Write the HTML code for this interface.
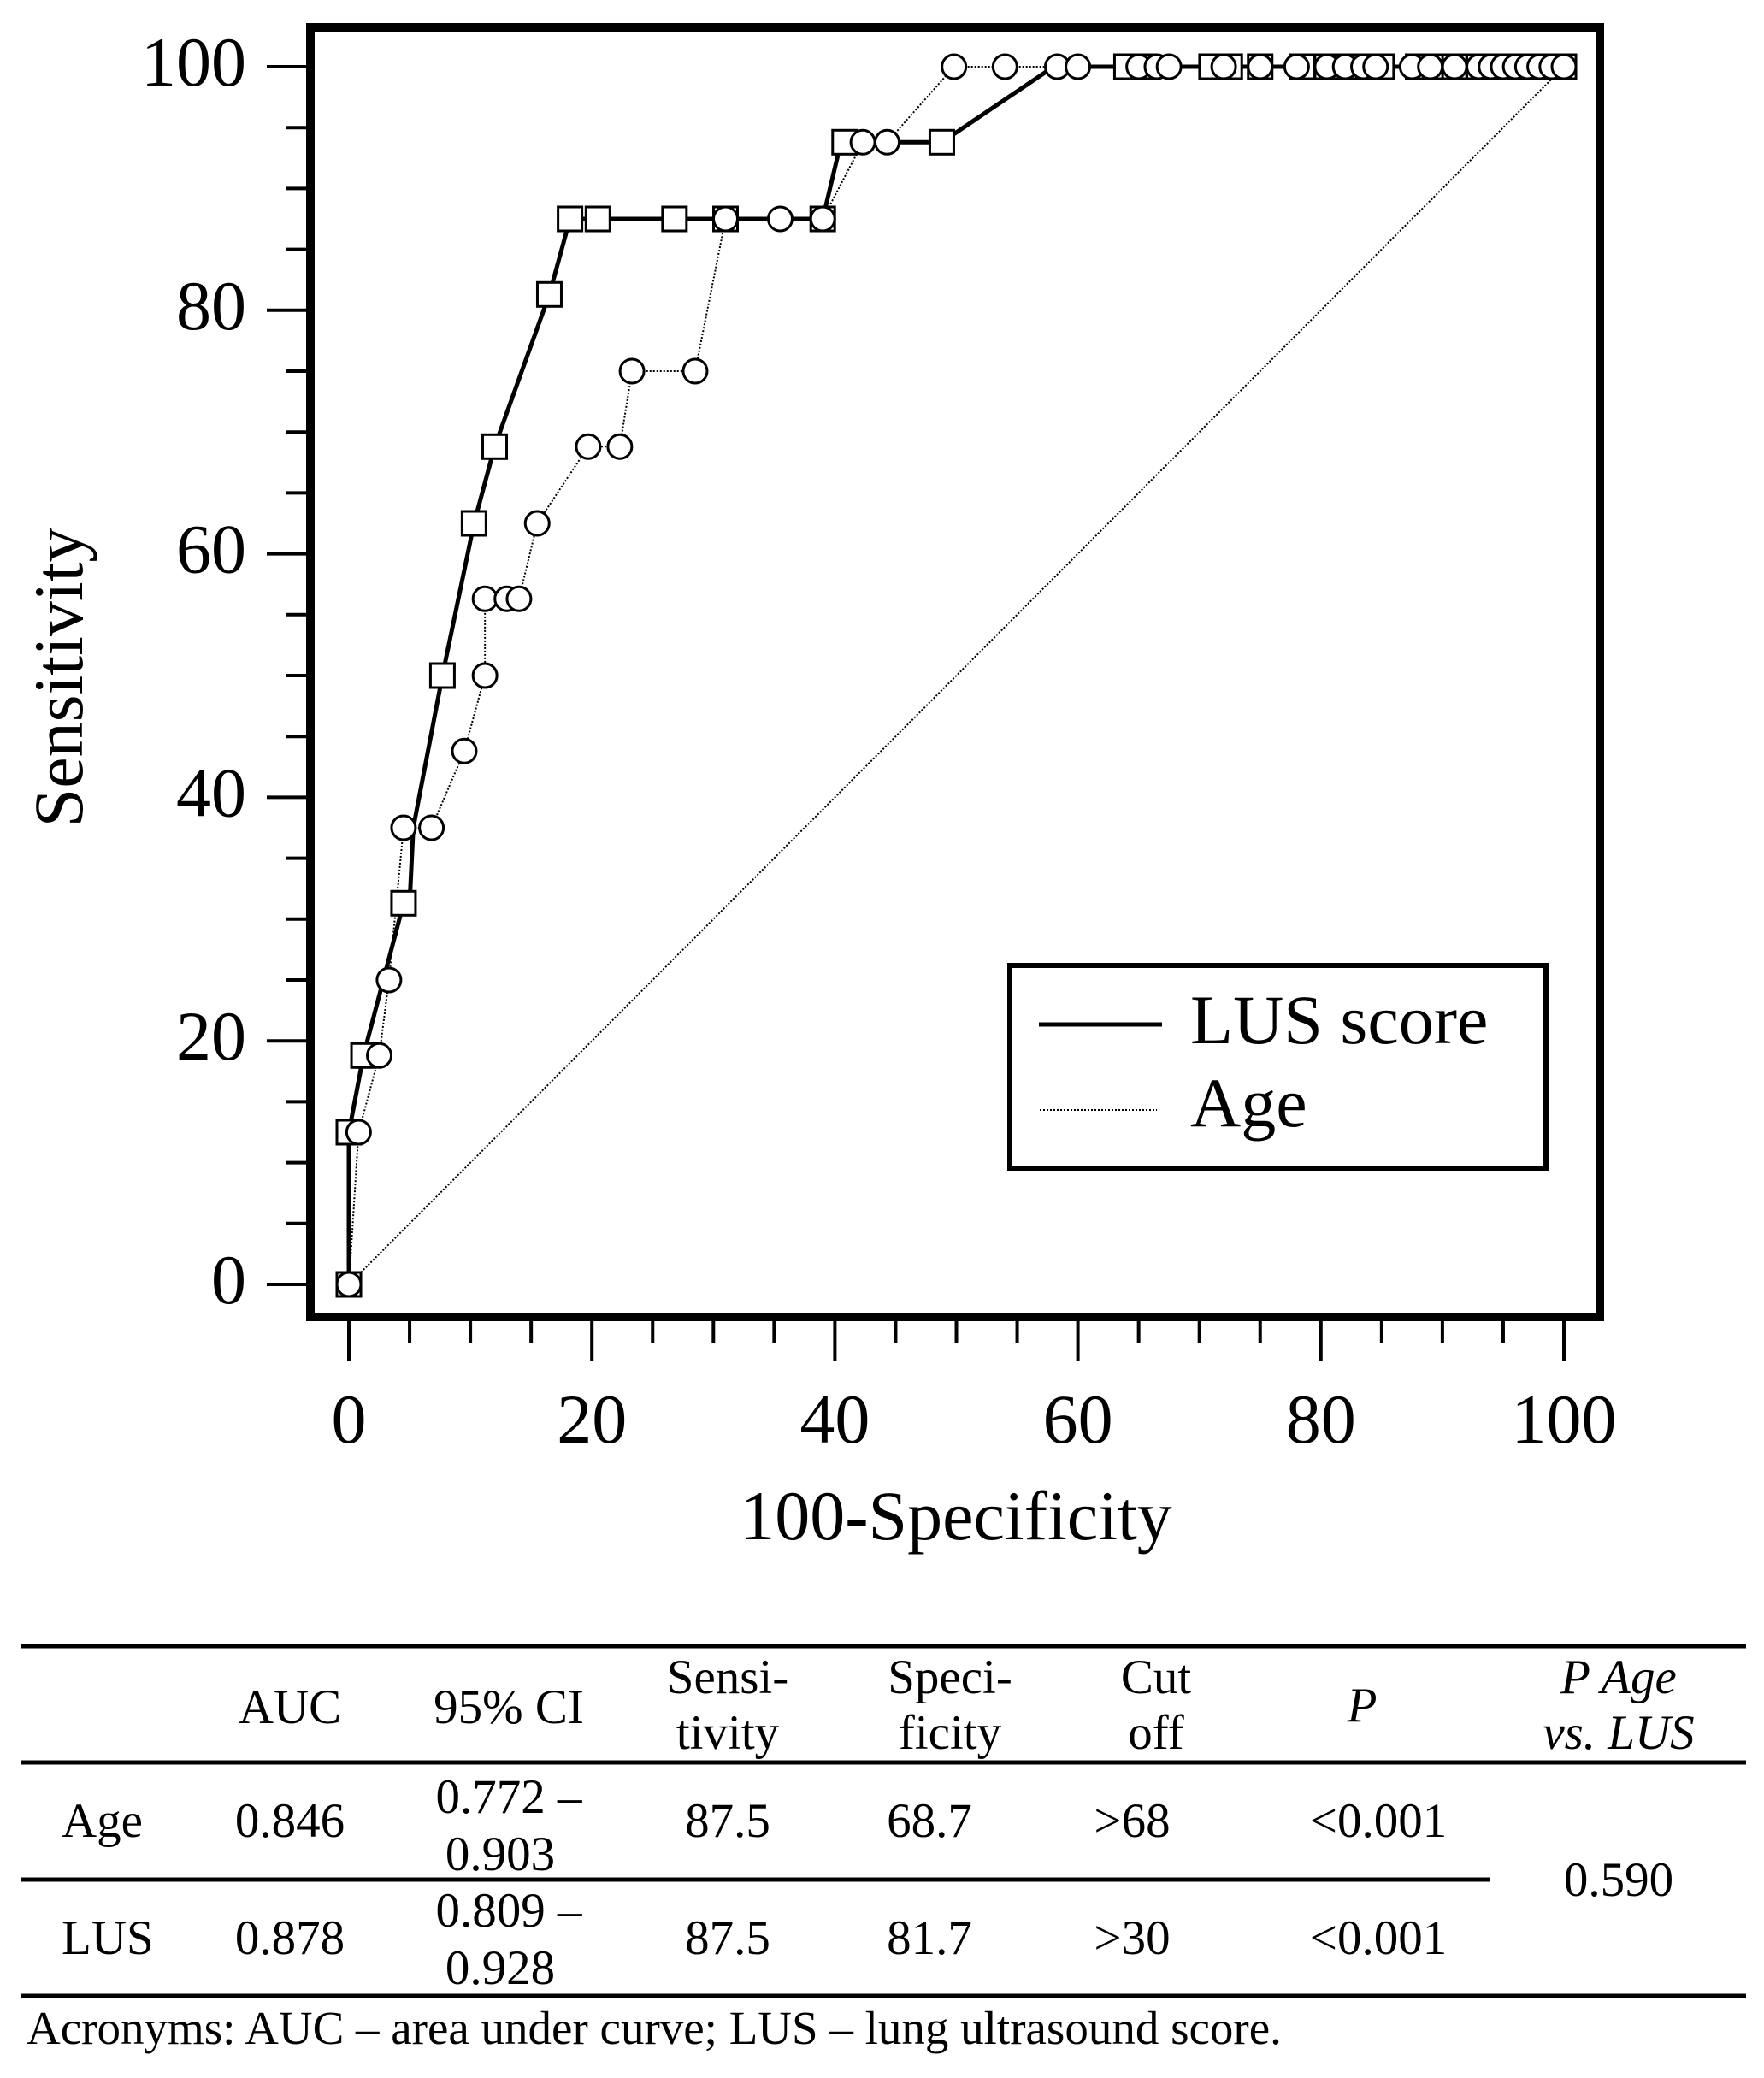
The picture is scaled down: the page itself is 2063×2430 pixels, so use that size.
<!DOCTYPE html>
<html><head><meta charset="utf-8"><style>
html,body{margin:0;padding:0;background:#fff;}
svg{display:block;}
text{font-family:"Liberation Serif",serif;fill:#000;}
</style></head><body>
<svg width="2063" height="2430" viewBox="0 0 2063 2430" xmlns="http://www.w3.org/2000/svg">
<g id="g"></g>
<!-- axes frame -->
<rect x="363" y="32" width="1508" height="1508" fill="none" stroke="#000" stroke-width="10"/>
<!-- legend -->
<rect x="1181" y="1129" width="627" height="237" fill="#fff" stroke="#000" stroke-width="6"/>
<line x1="1215" y1="1198" x2="1359" y2="1198" stroke="#000" stroke-width="5"/>
<line x1="1216" y1="1298" x2="1353" y2="1298" stroke="#000" stroke-width="2" stroke-dasharray="2,2"/>
<text x="1392" y="1220" font-size="82">LUS score</text>
<text x="1392" y="1317" font-size="82">Age</text>
<!-- axis titles -->
<text x="1118" y="1800" font-size="82" text-anchor="middle">100-Specificity</text>
<text transform="translate(96,792) rotate(-90)" font-size="82" text-anchor="middle">Sensitivity</text>
<!-- table -->
<g stroke="#000" stroke-width="5">
<line x1="25" y1="1925" x2="2042" y2="1925"/>
<line x1="25" y1="2061" x2="2042" y2="2061"/>
<line x1="25" y1="2198" x2="1743" y2="2198"/>
<line x1="25" y1="2334" x2="2042" y2="2334"/>
</g>
<g font-size="57" text-anchor="middle">
<text x="339" y="2015">AUC</text>
<text x="595" y="2015">95% CI</text>
<text x="851" y="1980">Sensi-</text><text x="851" y="2045">tivity</text>
<text x="1111" y="1980">Speci-</text><text x="1111" y="2045">ficity</text>
<text x="1352" y="1980">Cut</text><text x="1352" y="2045">off</text>
<text x="1593" y="2013" font-style="italic">P</text>
<text x="1893" y="1980" font-style="italic">P Age</text>
<text x="1893" y="2045" font-style="italic">vs. LUS</text>
<text x="339" y="2148">0.846</text>
<text x="595" y="2120">0.772 –</text><text x="585" y="2187">0.903</text>
<text x="851" y="2148">87.5</text>
<text x="1087" y="2148">68.7</text>
<text x="1324" y="2148">&gt;68</text>
<text x="1612" y="2148">&lt;0.001</text>
<text x="339" y="2285">0.878</text>
<text x="595" y="2253">0.809 –</text><text x="585" y="2320">0.928</text>
<text x="851" y="2285">87.5</text>
<text x="1087" y="2285">81.7</text>
<text x="1324" y="2285">&gt;30</text>
<text x="1612" y="2285">&lt;0.001</text>
<text x="1893" y="2217">0.590</text>
</g>
<text x="72" y="2148" font-size="57">Age</text>
<text x="72" y="2285" font-size="57">LUS</text>
<text x="31" y="2390" font-size="55">Acronyms: AUC – area under curve; LUS – lung ultrasound score.</text>
</svg>
<script>
(function(){
var NS="http://www.w3.org/2000/svg",g=document.getElementById("g");
function X(v){return 408+v*14.21;} function Y(v){return 1502-v*14.24;}
function el(n,a){var e=document.createElementNS(NS,n);for(var k in a)e.setAttribute(k,a[k]);g.appendChild(e);return e;}
// ticks
for(var v=0;v<=100;v+=5){var maj=v%20==0;
 el("line",{x1:X(v),y1:1545,x2:X(v),y2:maj?1592:1570,stroke:"#000","stroke-width":4});
 el("line",{x1:358,y1:Y(v),x2:maj?312:335,y2:Y(v),stroke:"#000","stroke-width":4});
 if(maj){var t=el("text",{x:X(v),y:1687,"font-size":82,"text-anchor":"middle"});t.textContent=v;
  var t2=el("text",{x:288,y:Y(v)+22,"font-size":82,"text-anchor":"end"});t2.textContent=v;}
}
// diagonal
el("line",{x1:X(0),y1:Y(0),x2:X(100),y2:Y(100),stroke:"#000","stroke-width":2,"stroke-dasharray":"2,2"});
var lus=[[0,0],[0,12.5],[1.2,18.8],[4.5,31.3],[5,31.3],[5.3,37.5],[7.7,50],[10.3,62.5],[12,68.8],[16.5,81.3],[18.2,87.5],[20.5,87.5],[26.8,87.5],[31,87.5],[39,87.5],[40.5,93.8],[48.8,93.8],[58,100],[64,100],[71,100],[75,100],[77,100],[80.5,100],[82,100],[84,100],[86,100],[88,100],[90,100],[92,100],[94,100],[96,100],[98,100],[100,100]];
var lusM=[[0,0],[0,12.5],[1.2,18.8],[4.5,31.3],[7.7,50],[10.3,62.5],[12,68.8],[16.5,81.3],[18.2,87.5],[20.5,87.5],[26.8,87.5],[31,87.5],[39,87.5],[40.8,93.8],[48.8,93.8],[64,100],[65.5,100],[71,100],[72.5,100],[75,100],[78.5,100],[80.5,100],[82,100],[83.5,100],[85,100],[88,100],[89.5,100],[91,100],[93,100],[94.5,100],[96,100],[97.5,100],[99,100],[100,100]];
var age=[[0,0],[0.8,12.5],[2.5,18.8],[3.3,25],[4.5,37.5],[6.8,37.5],[9.5,43.8],[11.2,50],[11.2,56.3],[13,56.3],[14,56.3],[15.5,62.5],[19.7,68.8],[22.3,68.8],[23.3,75],[28.5,75],[31,87.5],[35.5,87.5],[39,87.5],[42.3,93.8],[44.3,93.8],[49.8,100],[54,100],[58.3,100],[60,100],[65,100],[66.5,100],[67.5,100],[72,100],[75,100],[78,100],[80.5,100],[82,100],[83.5,100],[84.5,100],[87.5,100],[89,100],[91,100],[93,100],[94,100],[95,100],[96,100],[97,100],[98,100],[99,100],[100,100]];
function pts(a){return a.map(function(p){return X(p[0])+","+Y(p[1]);}).join(" ");}
el("polyline",{points:pts(age),fill:"none",stroke:"#000","stroke-width":2,"stroke-dasharray":"2,2"});
el("polyline",{points:pts(lus),fill:"none",stroke:"#000","stroke-width":5});
lusM.forEach(function(p){el("rect",{x:X(p[0])-14,y:Y(p[1])-14,width:28,height:28,fill:"#fff",stroke:"#000","stroke-width":3});});
age.forEach(function(p){el("circle",{cx:X(p[0]),cy:Y(p[1]),r:14,fill:"#fff",stroke:"#000","stroke-width":3});});
})();
</script>
</body></html>
